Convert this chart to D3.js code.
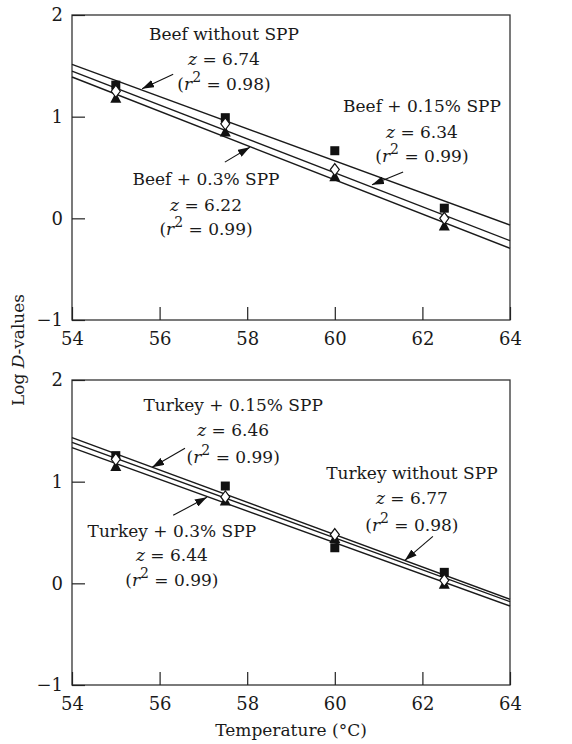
<!DOCTYPE html>
<html>
<head>
<meta charset="utf-8">
<script src="https://cdn.jsdelivr.net/npm/d3@7"></script>
<style>
  body { margin: 0; background: #fff; }
  text { font-family: "DejaVu Serif", serif; fill: #1a1a1a; }
  .tick text { font-size: 18px; }
  .tick line { stroke: #222; stroke-width: 1.2; }
  .note { font-size: 17px; }
  .axis-label { font-size: 17px; }
</style>
</head>
<body>
<svg width="572" height="744"></svg>
<script>
const temps = [55, 57.5, 60, 62.5];
const xTicks = [54, 56, 58, 60, 62, 64];
const yTicks = [-1, 0, 1, 2];

// beef, log D
const beefNone = [1.31, 0.99, 0.665, 0.10];
const beef015 = [1.25, 0.93, 0.48, 0.0];
const beef03 = [1.18, 0.85, 0.41, -0.075];
// fitted lines, value at 54 and 64
const beefFitNone = [1.514, -0.066];
const beefFit015 = [1.448, -0.22];
const beefFit03 = [1.39, -0.295];

// turkey
const turkeyNone = [1.256, 0.957, 0.35, 0.108];
const turkey015 = [1.22, 0.85, 0.48, 0.03];
const turkey03 = [1.15, 0.81, 0.44, -0.01];
const turkeyFitNone = [1.433, -0.157];
const turkeyFit015 = [1.387, -0.18];
const turkeyFit03 = [1.334, -0.223];

const beefNames = ['Beef without SPP', 'Beef + 0.15% SPP', 'Beef + 0.3% SPP'];
const beefZ = ['6.74', '6.34', '6.22'];
const beefR2 = ['0.98', '0.99', '0.99'];
const turkeyNames = ['Turkey without SPP', 'Turkey + 0.15% SPP', 'Turkey + 0.3% SPP'];
const turkeyZ = ['6.77', '6.46', '6.44'];
const turkeyR2 = ['0.98', '0.99', '0.99'];

const svg = d3.select('svg');

const panels = [
	{
		top: 15, bottom: 320,
		points: [beefNone, beef015, beef03],
		fits: [beefFitNone, beefFit015, beefFit03],
		names: beefNames, z: beefZ, r2: beefR2,
		// label anchor (temp, logD) and arrow from/to
		notes: [
			{at: [57.47, 1.753], gaps: [25, 25], arrow: [[56.31, 1.417], [55.60, 1.275]]},
			{at: [61.99, 1.045], gaps: [26, 24], arrow: [[61.56, 0.455], [60.85, 0.33]]},
			{at: [57.06, 0.328], gaps: [26, 24], arrow: [[57.49, 0.553], [58.06, 0.70]]}
		]
	},
	{
		top: 380, bottom: 685,
		points: [turkeyNone, turkey015, turkey03],
		fits: [turkeyFitNone, turkeyFit015, turkeyFit03],
		names: turkeyNames, z: turkeyZ, r2: turkeyR2,
		notes: [
			{at: [61.76, 1.023], gaps: [25, 27], arrow: [[62.24, 0.462], [61.60, 0.226]]},
			{at: [57.68, 1.692], gaps: [25, 27], arrow: [[56.58, 1.328], [55.83, 1.141]]},
			{at: [56.28, 0.452], gaps: [24, 25], arrow: [[56.31, 0.669], [57.08, 0.846]]}
		]
	}
];

const left = 72, right = 510;
const xScale = d3.scaleLinear().domain([54, 64]).range([left, right]);

svg.append('defs').append('marker')
	.attr('id', 'head')
	.attr('viewBox', '0 0 12 8')
	.attr('refX', 12).attr('refY', 4)
	.attr('markerWidth', 12).attr('markerHeight', 8)
	.attr('markerUnits', 'userSpaceOnUse')
	.attr('orient', 'auto')
	.append('path')
		.attr('d', 'M0,0 L12,4 L0,8 Z')
		.attr('fill', '#111');

panels.forEach(p => {
	const yScale = d3.scaleLinear().domain([-1, 2]).range([p.bottom, p.top]);
	const g = svg.append('g');

	g.append('rect')
		.attr('x', left).attr('y', p.top)
		.attr('width', right - left).attr('height', p.bottom - p.top)
		.attr('fill', 'none')
		.attr('stroke', '#333')
		.attr('stroke-width', 1.3);

	const yAxisG = g.append('g')
		.attr('transform', `translate(${left},0)`)
		.call(d3.axisLeft(yScale)
			.tickValues(yTicks)
			.tickSize(-13)
			.tickPadding(9)
			.tickFormat(d => d < 0 ? '\u2212' + Math.abs(d) : d));
	yAxisG.select('.domain').remove();

	const xAxisG = g.append('g')
		.attr('transform', `translate(0,${p.bottom})`)
		.call(d3.axisBottom(xScale)
			.tickValues(xTicks)
			.tickSize(-13)
			.tickPadding(12));
	xAxisG.select('.domain').remove();

	// fitted lines
	p.fits.forEach(f => {
		g.append('line')
			.attr('x1', xScale(54)).attr('y1', yScale(f[0]))
			.attr('x2', xScale(64)).attr('y2', yScale(f[1]))
			.attr('stroke', '#1a1a1a')
			.attr('stroke-width', 1.4);
	});

	// squares
	g.selectAll(null).data(p.points[0]).join('rect')
		.attr('x', (d, i) => xScale(temps[i]) - 4.5)
		.attr('y', d => yScale(d) - 4.5)
		.attr('width', 9).attr('height', 9)
		.attr('fill', '#111');

	// triangles
	g.selectAll(null).data(p.points[2]).join('path')
		.attr('d', (d, i) => {
			const x = xScale(temps[i]), y = yScale(d);
			return `M${x},${y - 6} L${x + 5.5},${y + 4.5} L${x - 5.5},${y + 4.5} Z`;
		})
		.attr('fill', '#111');

	// diamonds
	g.selectAll(null).data(p.points[1]).join('path')
		.attr('d', (d, i) => {
			const x = xScale(temps[i]), y = yScale(d);
			return `M${x},${y - 6} L${x + 4.5},${y} L${x},${y + 6} L${x - 4.5},${y} Z`;
		})
		.attr('fill', '#fff')
		.attr('stroke', '#111')
		.attr('stroke-width', 1.2);

	// notes
	p.notes.forEach((n, i) => {
		const cx = xScale(n.at[0]);
		const y0 = yScale(n.at[1]);
		const t = g.append('g').attr('class', 'note').attr('text-anchor', 'middle');
		t.append('text').attr('x', cx).attr('y', y0).text(p.names[i]);
		const zt = t.append('text').attr('x', cx).attr('y', y0 + n.gaps[0]);
		zt.append('tspan').attr('font-style', 'italic').text('z');
		zt.append('tspan').text(' = ' + p.z[i]);
		const rt = t.append('text').attr('x', cx).attr('y', y0 + n.gaps[0] + n.gaps[1]);
		rt.append('tspan').text('(');
		rt.append('tspan').attr('font-style', 'italic').text('r');
		rt.append('tspan').attr('dy', -8).attr('font-size', 14).text('2');
		rt.append('tspan').attr('dy', 8).text(' = ' + p.r2[i] + ')');

		g.append('line')
			.attr('x1', xScale(n.arrow[0][0])).attr('y1', yScale(n.arrow[0][1]))
			.attr('x2', xScale(n.arrow[1][0])).attr('y2', yScale(n.arrow[1][1]))
			.attr('stroke', '#111')
			.attr('stroke-width', 1.1)
			.attr('marker-end', 'url(#head)');
	});
});

svg.append('text')
	.attr('class', 'axis-label')
	.attr('x', (left + right) / 2)
	.attr('y', 736)
	.attr('text-anchor', 'middle')
	.text('Temperature (\u00B0C)');

const yLabel = svg.append('text')
	.attr('class', 'axis-label')
	.attr('transform', 'translate(24,350) rotate(-90)')
	.attr('text-anchor', 'middle');
yLabel.append('tspan').text('Log ');
yLabel.append('tspan').attr('font-style', 'italic').text('D');
yLabel.append('tspan').text('-values');
</script>
</body>
</html>
